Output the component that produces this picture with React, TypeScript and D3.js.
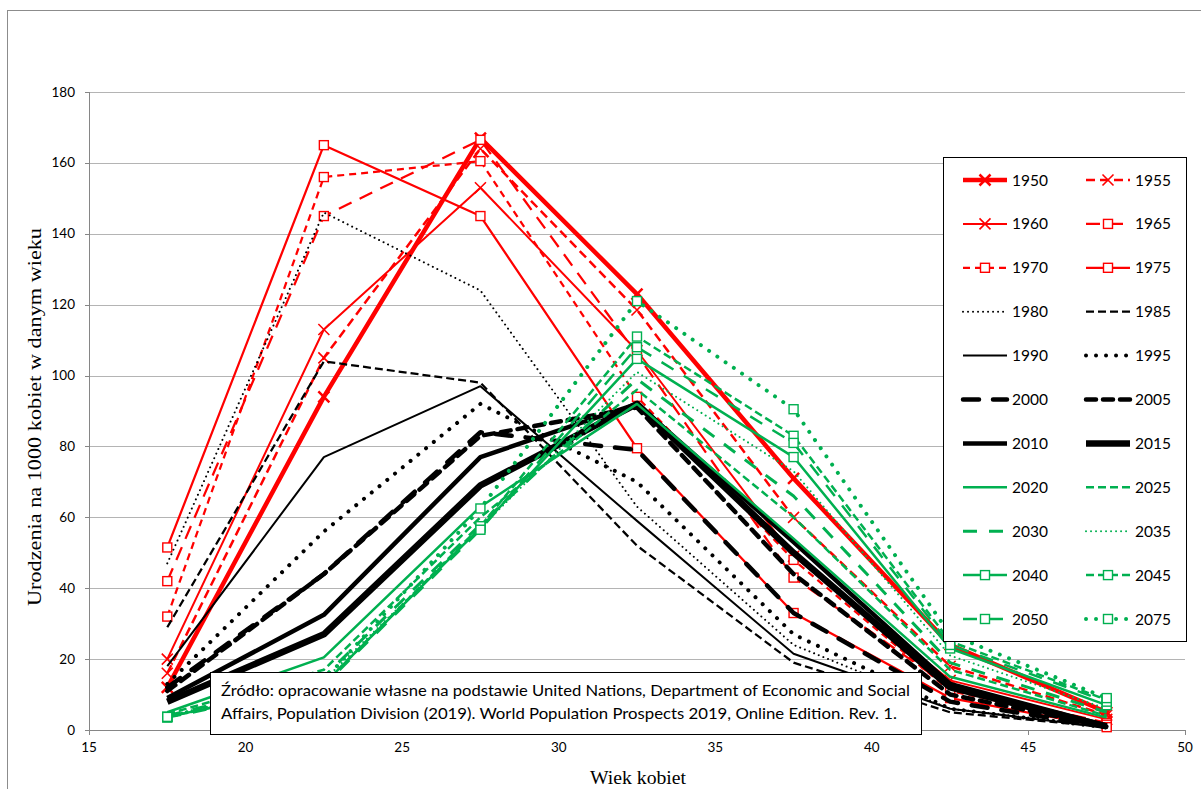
import React from 'react';
import * as d3 from 'd3';

// ---- data ----
const ages = [17.5, 22.5, 27.5, 32.5, 37.5, 42.5, 47.5];
const xTicks = [15, 20, 25, 30, 35, 40, 45, 50];
const yTicks = [0, 20, 40, 60, 80, 100, 120, 140, 160, 180];

const years = ['1950', '1955', '1960', '1965', '1970', '1975', '1980', '1985', '1990', '1995', '2000',
  '2005', '2010', '2015', '2020', '2025', '2030', '2035', '2040', '2045', '2050', '2075'];

const v1950 = [12, 94, 167, 123, 71, 24, 5];
const v1955 = [16, 105, 164, 118.5, 60, 18, 4.2];
const v1960 = [20, 113, 153, 107, 49, 14, 3];
const v1965 = [42, 145, 166.5, 106, 43, 12, 2];
const v1970 = [32, 156, 160.5, 94, 48, 11, 1.5];
const v1975 = [51.5, 165, 145, 79.5, 33, 9, 0.8];
const v1980 = [47, 146, 124, 63, 24, 6, 1];
const v1985 = [29, 104, 98, 52, 19, 5, 0.8];
const v1990 = [18, 77, 97, 59, 21.5, 6, 0.7];
const v1995 = [13, 56, 92, 70, 27, 6, 0.7];
const v2000 = [12, 44, 84, 79, 33, 8, 0.8];
const v2005 = [11, 44, 83, 91, 44, 10, 1];
const v2010 = [9, 32.5, 77, 92, 53, 13, 1.2];
const v2015 = [8, 27, 69, 92, 50, 12, 1];
const v2020 = [5, 20.5, 63, 92, 54, 15, 3.5];
const v2025 = [4.5, 17, 60, 96, 60, 17, 4];
const v2030 = [4, 15, 58, 99, 66, 19, 5];
const v2035 = [4, 14, 57, 101, 73, 21, 6];
const v2040 = [3.7, 13, 57, 104.7, 77, 23, 7];
const v2045 = [3.7, 13, 57.5, 111, 83, 25, 8.5];
const v2050 = [3.5, 12.5, 56.5, 108, 81, 24, 8];
const v2075 = [3.7, 14, 62.5, 121, 90.5, 27, 9];

const seriesValues = [v1950, v1955, v1960, v1965, v1970, v1975, v1980, v1985, v1990, v1995, v2000,
  v2005, v2010, v2015, v2020, v2025, v2030, v2035, v2040, v2045, v2050, v2075];

const sourceLines = [
  'Źródło: opracowanie własne na podstawie United Nations, Department of Economic and Social',
  'Affairs, Population Division (2019). World Population Prospects 2019, Online Edition. Rev. 1.',
];
const sourceWidths = [689, 676];
const xTitle = 'Wiek kobiet';
const yTitle = 'Urodzenia na 1000 kobiet w danym wieku';

// ---- styles ----
const RED = '#ff0000';
const BLACK = '#000000';
const GREEN = '#00b050';

type Marker = 'x' | 'sq' | null;
interface St { c: string; w: number; d?: string; cap?: 'round' | 'butt'; m: Marker; mw?: number }
const st: St[] = [
  { c: RED, w: 4.5, m: 'x', mw: 2.5 },
  { c: RED, w: 2.5, d: '9 5', m: 'x' },
  { c: RED, w: 2, m: 'x' },
  { c: RED, w: 2.25, d: '14 9', m: 'sq' },
  { c: RED, w: 2.25, d: '7 5', m: 'sq' },
  { c: RED, w: 2.25, m: 'sq' },
  { c: BLACK, w: 2, d: '0.01 5', cap: 'round', m: null },
  { c: BLACK, w: 2.25, d: '8 4', m: null },
  { c: BLACK, w: 2, m: null },
  { c: BLACK, w: 4, d: '0.01 10', cap: 'round', m: null },
  { c: BLACK, w: 4.5, d: '16 14', cap: 'round', m: null },
  { c: BLACK, w: 4.5, d: '10 7', cap: 'round', m: null },
  { c: BLACK, w: 4.5, m: null },
  { c: BLACK, w: 6.5, m: null },
  { c: GREEN, w: 2.5, m: null },
  { c: GREEN, w: 2.5, d: '8 4', m: null },
  { c: GREEN, w: 3, d: '14 12', m: null },
  { c: GREEN, w: 2, d: '0.01 5', cap: 'round', m: null },
  { c: GREEN, w: 2.5, m: 'sq' },
  { c: GREEN, w: 2.5, d: '8 4', m: 'sq' },
  { c: GREEN, w: 2.5, d: '14 12', m: 'sq' },
  { c: GREEN, w: 4, d: '0.01 10', cap: 'round', m: 'sq' },
];

const SANS = 'Lato, "Open Sans", sans-serif';
const SERIF = '"Liberation Serif", "DejaVu Serif", serif';

function MarkerShape({ x, y, s }: { x: number; y: number; s: St }) {
  if (s.m === 'x') {
    const r = 5.5;
    return (
      <path d={`M${x - r},${y - r}L${x + r},${y + r}M${x - r},${y + r}L${x + r},${y - r}`}
        stroke={s.c} strokeWidth={s.mw ?? 1.6} fill="none" />
    );
  }
  if (s.m === 'sq') {
    const r = 4.5;
    return <rect x={x - r} y={y - r} width={2 * r} height={2 * r} fill="#ffffff" stroke={s.c} strokeWidth={1.4} />;
  }
  return null;
}

export default function App() {
  const W = 1201, H = 789;
  const x = d3.scaleLinear().domain([15, 50]).range([89, 1185]);
  const y = d3.scaleLinear().domain([0, 180]).range([730, 92]);
  const line = d3.line<[number, number]>().x(d => x(d[0])).y(d => y(d[1]));

  const legX = 943, legY = 157, legW = 243, legH = 484;
  const rowStep = 43.9;

  return (
    <svg width={W} height={H} style={{ position: 'absolute', left: 0, top: 0, background: '#fff' }}
      xmlns="http://www.w3.org/2000/svg">
      <rect x={0} y={0} width={W} height={H} fill="#ffffff" />
      {/* outer chart border */}
      <rect x={7.5} y={10.5} width={1250} height={850} fill="none" stroke="#8c8c8c" strokeWidth={1} />

      {/* gridlines */}
      {yTicks.filter(t => t > 0).map(t => (
        <line key={'g' + t} x1={x(15)} x2={x(50)} y1={Math.round(y(t)) + 0.5} y2={Math.round(y(t)) + 0.5}
          stroke="#b4b4b4" strokeWidth={1} />
      ))}
      {/* axes */}
      <line x1={x(15) + 0.5} x2={x(15) + 0.5} y1={y(180)} y2={y(0)} stroke="#868686" strokeWidth={1} />
      <line x1={x(15)} x2={x(50)} y1={Math.round(y(0)) + 0.5} y2={Math.round(y(0)) + 0.5} stroke="#868686" strokeWidth={1} />
      {yTicks.map(t => (
        <g key={'yt' + t}>
          <line x1={x(15) - 4} x2={x(15)} y1={Math.round(y(t)) + 0.5} y2={Math.round(y(t)) + 0.5} stroke="#868686" />
          <text x={x(15) - 14} y={y(t) + 4.5} textAnchor="end" fontFamily={SANS} fontSize={13.5} fill="#000">{t}</text>
        </g>
      ))}
      {xTicks.map(t => (
        <g key={'xt' + t}>
          <line x1={Math.round(x(t)) + 0.5} x2={Math.round(x(t)) + 0.5} y1={y(0)} y2={y(0) + 5} stroke="#868686" />
          <text x={x(t)} y={y(0) + 22} textAnchor="middle" fontFamily={SANS} fontSize={13.5} fill="#000">{t}</text>
        </g>
      ))}

      {/* series */}
      {seriesValues.map((vals, i) => {
        const s = st[i];
        const pts = ages.map((a, j) => [a, vals[j]] as [number, number]);
        return (
          <g key={'s' + years[i]}>
            <path d={line(pts) || ''} fill="none" stroke={s.c} strokeWidth={s.w}
              strokeDasharray={s.d} strokeLinecap={s.cap ?? 'butt'} strokeLinejoin="round" />
            {s.m && pts.map((p, j) => <MarkerShape key={j} x={x(p[0])} y={y(p[1])} s={s} />)}
          </g>
        );
      })}

      {/* axis titles */}
      <text x={638} y={784} textAnchor="middle" fontFamily={SERIF} fontSize={18.5} fill="#000"
        textLength={96} lengthAdjust="spacingAndGlyphs">{xTitle}</text>
      <text transform={`translate(41,417) rotate(-90)`} textAnchor="middle"
        fontFamily={SERIF} fontSize={19} fill="#000" textLength={378} lengthAdjust="spacingAndGlyphs">{yTitle}</text>

      {/* legend */}
      <rect x={legX + 0.5} y={legY + 0.5} width={legW} height={legH} fill="#ffffff" stroke="#000" strokeWidth={1} />
      {years.map((yr, i) => {
        const col = i % 2;
        const row = Math.floor(i / 2);
        const cy = 180 + row * rowStep;
        const x0 = col === 0 ? 963 : 1086;
        const x1 = x0 + 44;
        const s = st[i];
        return (
          <g key={'l' + yr}>
            <line x1={x0} x2={x1} y1={cy} y2={cy} stroke={s.c} strokeWidth={s.w}
              strokeDasharray={s.d} strokeLinecap={s.cap ?? 'butt'} />
            {s.m && <MarkerShape x={(x0 + x1) / 2} y={cy} s={s} />}
            <text x={x1 + 5} y={cy + 5.5} fontFamily={SANS} fontSize={15.5} fill="#000">{yr}</text>
          </g>
        );
      })}

      {/* source box */}
      <rect x={210.5} y={672.5} width={711} height={62} fill="#ffffff" stroke="#000" strokeWidth={1} />
      {sourceLines.map((t, i) => (
        <text key={'src' + i} x={221} y={696 + i * 23} fontFamily={SANS} fontSize={15} fill="#000"
          textLength={sourceWidths[i]} lengthAdjust="spacingAndGlyphs">{t}</text>
      ))}
    </svg>
  );
}
